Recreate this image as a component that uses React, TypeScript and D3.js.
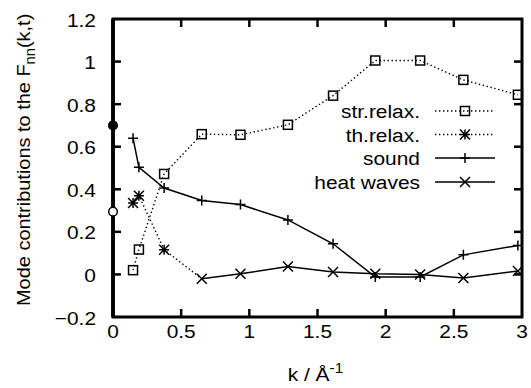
import React from "react";
import * as d3 from "d3";

// wave vectors (1/Å) at which the modes were evaluated
const kValues = [0.147, 0.19, 0.375, 0.651, 0.935, 1.283, 1.614, 1.924, 2.253, 2.57, 2.97];
const strRelax = [0.02, 0.117, 0.472, 0.659, 0.656, 0.703, 0.84, 1.005, 1.005, 0.914, 0.844];
const sound = [0.64, 0.503, 0.406, 0.347, 0.328, 0.256, 0.144, -0.012, -0.012, 0.092, 0.136];
const thRelaxK = [0.147, 0.19, 0.375];
const thRelax = [0.336, 0.37, 0.116];
const heatK = [0.651, 0.935, 1.283, 1.614, 1.924, 2.253, 2.57, 2.97];
const heatWaves = [-0.02, 0.003, 0.0375, 0.011, 0.003, 0, -0.017, 0.016];
// k -> 0 limits marked on the axis
const limitK = [0, 0];
const limitValues = [0.7, 0.295];
const limitFilled = [true, false];

const xTicks = [0, 0.5, 1, 1.5, 2, 2.5, 3];
const yTicks = [-0.2, 0, 0.2, 0.4, 0.6, 0.8, 1, 1.2];

const W = 531;
const H = 388;
const left = 113;
const right = 522;
const top = 19;
const bottom = 317;
const FONT = "'Liberation Sans', Arial, Helvetica, sans-serif";
const FS = 19;
const SX = 1.1;
const TICK = 8;

const x = d3.scaleLinear().domain([0, 3]).range([left, right]);
const y = d3.scaleLinear().domain([-0.2, 1.2]).range([bottom, top]);

const pts = (ks: number[], vs: number[]) => ks.map((k, i) => [x(k), y(vs[i])] as [number, number]);
const line = d3.line();

type Kind = "square" | "star" | "plus" | "cross";

function Marker({ cx, cy, kind }: { cx: number; cy: number; kind: Kind }) {
  const s = 4.5;
  const c = 5;
  if (kind === "square")
    return <rect x={cx - s} y={cy - s} width={2 * s} height={2 * s} fill="none" stroke="#000" strokeWidth={1.5} />;
  const plus = `M${cx - c},${cy}H${cx + c}M${cx},${cy - c}V${cy + c}`;
  const cross = `M${cx - c},${cy - c}L${cx + c},${cy + c}M${cx - c},${cy + c}L${cx + c},${cy - c}`;
  const d = kind === "plus" ? plus : kind === "cross" ? cross : plus + cross;
  return <path d={d} fill="none" stroke="#000" strokeWidth={1.5} />;
}

function Label({ tx, ty, anchor, children, rot, sx = SX }: any) {
  return (
    <text
      transform={`translate(${tx},${ty})${rot ? ` rotate(${rot})` : ""} scale(${sx},1)`}
      textAnchor={anchor}
      fontFamily={FONT}
      fontSize={FS}
      fill="#000"
    >
      {children}
    </text>
  );
}

const series: { name: string; ks: number[]; vs: number[]; kind: Kind; dotted: boolean; lineExtra?: [number, number][] }[] = [
  { name: "str.relax.", ks: kValues, vs: strRelax, kind: "square", dotted: true },
  // th.relax. curve joins the heat waves branch
  { name: "th.relax.", ks: thRelaxK, vs: thRelax, kind: "star", dotted: true, lineExtra: [[x(heatK[0]), y(heatWaves[0])]] },
  { name: "sound", ks: kValues, vs: sound, kind: "plus", dotted: false },
  { name: "heat waves", ks: heatK, vs: heatWaves, kind: "cross", dotted: false },
];

const legendRows = [111, 134.5, 158, 182];

export default function App() {
  return (
    <div style={{ position: "absolute", left: 0, top: 0 }}>
      <svg width={W} height={H} style={{ display: "block", background: "#fff" }}>
        {/* series */}
        {series.map((s) => {
          const p = pts(s.ks, s.vs);
          return (
            <g key={s.name}>
              <path
                d={line([...p, ...(s.lineExtra || [])]) || ""}
                fill="none"
                stroke="#000"
                strokeWidth={s.dotted ? 1.4 : 1.5}
                strokeDasharray={s.dotted ? "1.4,2.6" : undefined}
              />
              {p.map(([px, py], i) => (
                <Marker key={i} cx={px} cy={py} kind={s.kind} />
              ))}
            </g>
          );
        })}

        {/* frame and ticks */}
        <rect x={left} y={top} width={right - left} height={bottom - top} fill="none" stroke="#000" strokeWidth={3} />
        <line x1={left} x2={left} y1={top} y2={bottom} stroke="#000" strokeWidth={3.8} />
        {xTicks.slice(1, -1).map((t) => (
          <g key={"xt" + t}>
            <line x1={x(t)} x2={x(t)} y1={bottom} y2={bottom - TICK} stroke="#000" strokeWidth={2.5} />
            <line x1={x(t)} x2={x(t)} y1={top} y2={top + TICK} stroke="#000" strokeWidth={2.5} />
          </g>
        ))}
        {yTicks.slice(1, -1).map((t) => (
          <g key={"yt" + t}>
            <line x1={left} x2={left + TICK} y1={y(t)} y2={y(t)} stroke="#000" strokeWidth={2.5} />
            <line x1={right} x2={right - TICK} y1={y(t)} y2={y(t)} stroke="#000" strokeWidth={2.5} />
          </g>
        ))}

        {/* k -> 0 limits */}
        {limitK.map((k, i) => (
          <circle
            key={"lim" + i}
            cx={x(k)}
            cy={y(limitValues[i])}
            r={4.3}
            fill={limitFilled[i] ? "#000" : "#fff"}
            stroke="#000"
            strokeWidth={1.5}
          />
        ))}

        {/* tick labels */}
        {xTicks.map((t) => (
          <Label key={"xl" + t} tx={x(t)} ty={338} anchor="middle">
            {d3.format("")(t)}
          </Label>
        ))}
        {yTicks.map((t) => (
          <Label key={"yl" + t} tx={96} ty={y(t) + 7.5} anchor="end">
            {d3.format("")(+t.toFixed(1))}
          </Label>
        ))}

        {/* axis titles */}
        <Label tx={(left + right) / 2 - 2} ty={381} anchor="middle">
          k / Å<tspan fontSize={14} dy={-8}>-1</tspan>
        </Label>
        <Label tx={30} ty={306} anchor="start" rot={-90} sx={1.05}>
          Mode contributions to the F<tspan fontSize={14} dy={5}>nn</tspan>
          <tspan dy={-5}>(k,t)</tspan>
        </Label>

        {/* legend */}
        {series.map((s, i) => {
          const ly = legendRows[i];
          return (
            <g key={"lg" + s.name}>
              <Label tx={420} ty={ly + 7} anchor="end">
                {s.name}
              </Label>
              <line
                x1={435}
                x2={495}
                y1={ly}
                y2={ly}
                stroke="#000"
                strokeWidth={s.dotted ? 1.4 : 1.5}
                strokeDasharray={s.dotted ? "1.4,2.6" : undefined}
              />
              <Marker cx={465} cy={ly} kind={s.kind} />
            </g>
          );
        })}
      </svg>
    </div>
  );
}
